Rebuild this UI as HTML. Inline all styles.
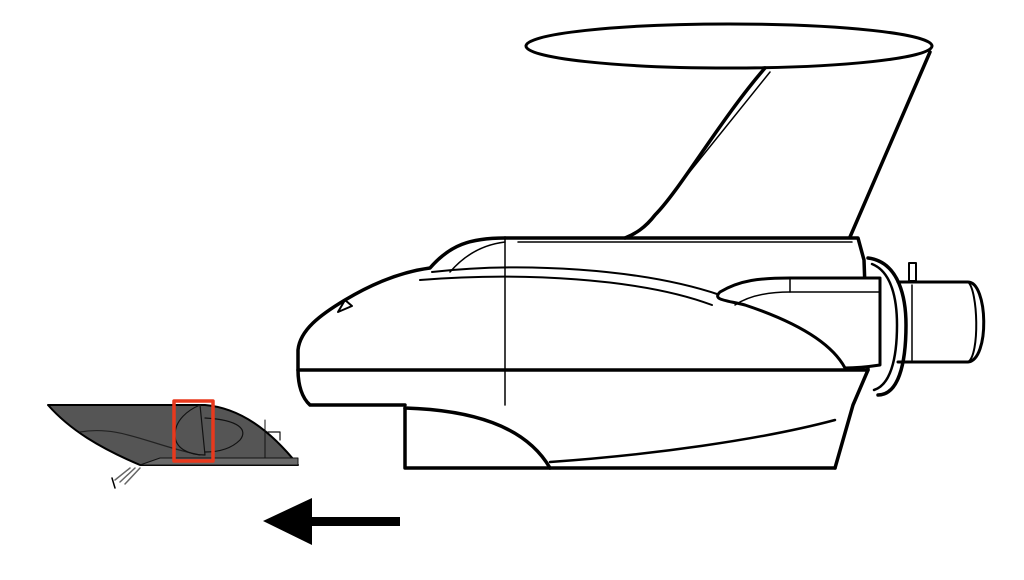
<!DOCTYPE html>
<html><head><meta charset="utf-8"><style>html,body{margin:0;padding:0;background:#fff}svg{display:block}</style></head>
<body>
<svg width="1024" height="580" viewBox="0 0 1024 580" xmlns="http://www.w3.org/2000/svg">
<g fill="none" stroke="#000" stroke-linecap="round" stroke-linejoin="round">
  <ellipse cx="729" cy="46" rx="203" ry="22" fill="#fff" stroke-width="3"/>
  <path d="M765,68 C720,120 680,190 655,215 C645,228 635,234 625,238" stroke-width="3.5"/>
  <path d="M930,52 L850,237" stroke-width="3.5"/>
  <path d="M655,215 L770,72" stroke-width="1.5"/>
  <!-- ring and tube -->
  <path d="M868,258 C900,262 906,300 906,325 C906,365 898,395 878,395" stroke-width="3.5"/>
  <path d="M872,264 C892,272 897,300 897,325 C897,360 890,385 874,390" stroke-width="2.5"/>
  <path d="M898,282 L968,282 C988,282 990,360 968,362 L898,362" stroke-width="3"/>
  <path d="M968,282 C978,290 980,355 968,362" stroke-width="2"/>
  <path d="M912,285 L912,360" stroke-width="1.5"/>
  <rect x="909" y="263" width="7" height="18" stroke-width="2" fill="#fff"/>
  <path d="M505,238 L858,238 L864,260 L868,370 L853,405 L835,468" stroke-width="3.5"/>
  <path d="M518,242 L852,242" stroke-width="1.5"/>
  <path d="M505,238 C470,238 450,245 430,268 C400,272 370,285 345,300 C320,315 300,330 298,350 L298,370 C298,385 302,398 310,405 L405,405" stroke-width="3.5"/>
  <path d="M345,300 L338,312 L352,306 Z" stroke-width="2"/>
  <path d="M505,242 C480,245 462,258 450,272" stroke-width="1.5"/>
  <path d="M432,272 C520,262 640,268 720,295" stroke-width="2"/>
  <path d="M420,280 C520,272 640,278 712,305" stroke-width="2"/>
  <path d="M720,292 C740,280 760,278 790,278 L880,278 L880,365 C860,368 850,368 845,368 C830,340 790,320 745,305 C725,300 712,300 720,292 Z" stroke-width="3" fill="#fff"/>
  <path d="M735,305 C750,295 770,292 790,292 L880,292" stroke-width="1.5"/>
  <path d="M790,278 L790,292" stroke-width="1.5"/>
  <path d="M298,370 L868,370" stroke-width="3.5"/>
  <path d="M505,238 L505,405" stroke-width="1.5"/>
  <path d="M405,408 L405,468 L835,468" stroke-width="3.5"/>
  <path d="M405,408 C470,410 525,425 550,468" stroke-width="3.5"/>
  <path d="M550,462 C650,455 760,440 835,420" stroke-width="2.5"/>
  <!-- left dark part -->
  <path d="M48,405 L205,405 C240,408 270,430 298,465 L140,465 C100,448 70,430 48,405 Z" fill="#555" stroke-width="2"/>
  <path d="M160,458 L298,458 L298,465 L140,465 Z" fill="#6a6a6a" stroke="#111" stroke-width="1"/>
  <path d="M80,432 C120,425 150,445 200,455" stroke="#222" stroke-width="1.2"/>
  <path d="M175,435 C175,420 188,410 200,405 L205,455 C188,455 175,448 175,435 Z" stroke="#111" stroke-width="1.2"/>
  <path d="M205,418 C240,420 248,430 240,440 C230,450 215,452 205,452" stroke="#111" stroke-width="1.2"/>
  <path d="M265,420 L265,458" stroke="#111" stroke-width="1"/>
  <path d="M268,432 L280,432 L280,440" stroke="#111" stroke-width="1.2" fill="#fff"/>
  <path d="M130,468 L115,480 M135,468 L120,482 M140,468 L125,484" stroke="#666" stroke-width="1.5"/>
  <path d="M112,478 L115,488" stroke-width="1.5"/>
  <rect x="174" y="401" width="39" height="60" stroke="#e8391d" stroke-width="3.5"/>
</g>
<rect x="305" y="517" width="95" height="9" fill="#000"/>
<polygon points="263,521 312,498 312,545" fill="#000"/>
</svg>
</body></html>
